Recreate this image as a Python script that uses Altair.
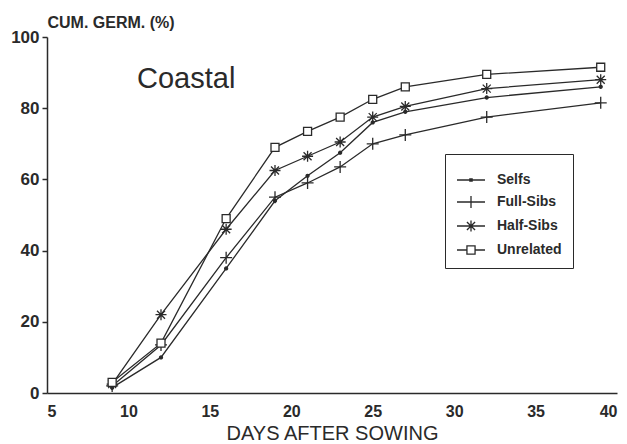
import altair as alt
import pandas as pd

# ---- data ----
days = [9, 12, 16, 19, 21, 23, 25, 27, 32, 39]
selfs = [1.5, 10, 35, 54, 61, 67.5, 76, 79, 83, 86]
full_sibs = [2, 13.5, 38, 55, 59, 63.5, 70, 72.5, 77.5, 81.5]
half_sibs = [2.5, 22, 46, 62.5, 66.5, 70.5, 77.5, 80.5, 85.5, 88]
unrelated = [3, 14, 49, 69, 73.5, 77.5, 82.5, 86, 89.5, 91.5]
series_names = ["Selfs", "Full-Sibs", "Half-Sibs", "Unrelated"]
x_ticks = [5, 10, 15, 20, 25, 30, 35, 40]
y_ticks = [0, 20, 40, 60, 80, 100]

rows = []
for name, vals in zip(series_names, [selfs, full_sibs, half_sibs, unrelated]):
    for d, v in zip(days, vals):
        rows.append({"day": d, "pct": v, "series": name})
df = pd.DataFrame(rows)

# ---- styles ----
INK = "#2a2a2a"
FONT = "Liberation Sans"
marker_paths = [
    "M-0.3,0A0.3,0.3 0 1,0 0.3,0A0.3,0.3 0 1,0 -0.3,0Z",
    "M-1.2,0L1.2,0M0,-1.2L0,1.2",
    "M-1.1,0L1.1,0M0,-1.1L0,1.1M-0.8,-0.8L0.8,0.8M-0.8,0.8L0.8,-0.8",
    "M-0.8,-0.8L0.8,-0.8L0.8,0.8L-0.8,0.8Z",
]
legend_paths = [
    "M-1,0L1,0M-0.08,-0.08L0.08,-0.08L0.08,0.08L-0.08,0.08Z",
    "M-1,0L1,0M0,-0.43L0,0.43",
    "M-1,0L1,0M0,-0.4L0,0.4M-0.29,-0.29L0.29,0.29M-0.29,0.29L0.29,-0.29",
    "M-1,0L-0.29,0M0.29,0L1,0M-0.29,-0.29L0.29,-0.29L0.29,0.29L-0.29,0.29Z",
]

x_enc = alt.X(
    "day:Q",
    scale=alt.Scale(domain=[5, 40], nice=False, zero=False),
    axis=alt.Axis(
        values=x_ticks, title="DAYS AFTER SOWING", grid=False, tickSize=0,
        labelFontSize=16, labelFontWeight="bold", labelFont=FONT, labelColor=INK,
        labelPadding=10, domainColor=INK, domainWidth=1.5,
        titleFont=FONT, titleFontSize=20, titleFontWeight="normal", titleColor=INK,
        titleY=40, titleBaseline="middle",
    ),
)
y_enc = alt.Y(
    "pct:Q",
    scale=alt.Scale(domain=[0, 100], nice=False),
    axis=alt.Axis(
        values=y_ticks, title="CUM. GERM. (%)", grid=False, tickSize=5,
        tickColor=INK, tickWidth=1.5,
        labelFontSize=17, labelFontWeight="bold", labelFont=FONT, labelColor=INK,
        labelPadding=3, domainColor=INK, domainWidth=1.5,
        titleFont=FONT, titleFontSize=16, titleFontWeight="bold", titleColor=INK,
        titleAngle=0, titleX=0, titleY=-15, titleAlign="left", titleBaseline="middle",
    ),
)

base = alt.Chart(df).encode(x=x_enc, y=y_enc)

lines = base.mark_line(color=INK, strokeWidth=1.3).encode(detail="series:N")

points = base.mark_point(filled=True, size=100, stroke=INK, strokeWidth=1.3, opacity=1).encode(
    shape=alt.Shape("series:N", scale=alt.Scale(domain=series_names, range=marker_paths), legend=None),
    fill=alt.Fill("series:N", scale=alt.Scale(domain=series_names, range=[INK, "white", "white", "white"]), legend=None),
)

legend_layer = base.mark_point(opacity=0, size=784).encode(
    shape=alt.Shape(
        "series:N",
        scale=alt.Scale(domain=series_names, range=legend_paths),
        legend=alt.Legend(
            title=None, orient="none", legendX=398, legendY=117,
            symbolSize=784, symbolStrokeColor=INK, symbolStrokeWidth=1.3,
            symbolFillColor="transparent", symbolOpacity=1,
            labelFont=FONT, labelFontSize=14, labelFontWeight="bold", labelColor=INK,
            labelOffset=11, rowPadding=-1, padding=11,
            strokeColor=INK, fillColor="white",
        ),
    ),
)

chart = (
    alt.layer(lines, points, legend_layer)
    .resolve_scale(shape="independent")
    .resolve_legend(shape="independent")
    .properties(
        width=570,
        height=356,
        autosize=alt.AutoSizeParams(type="none"),
        padding={"left": 47, "top": 37, "right": 10, "bottom": 51},
        background="white",
        title=alt.TitleParams(
            "Coastal", anchor="start", frame="group", orient="top",
            font=FONT, fontSize=29, fontWeight="normal", color=INK,
            offset=0, baseline="alphabetic", dx=90, dy=103,
        ),
    )
    .configure_view(stroke=None)
)

chart.save("out.html", embed_options={"renderer": "svg", "actions": False})
